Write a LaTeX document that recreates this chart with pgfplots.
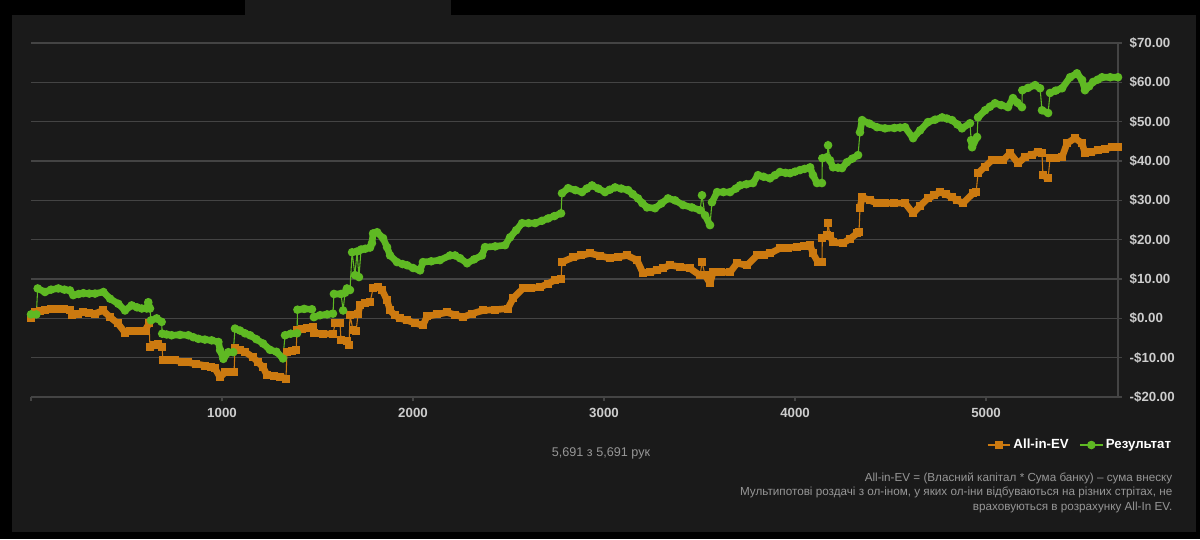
\documentclass[border=0pt]{standalone}
\usepackage{fontspec}
\setmainfont{Liberation Sans}
\usepackage{pgfplots}
\usepackage{pgfplotstable}
\pgfplotsset{compat=1.18}
\definecolor{bgpanel}{RGB}{26,26,26}
\definecolor{gridc}{RGB}{68,68,68}
\definecolor{ticklab}{RGB}{205,205,205}
\definecolor{ev}{RGB}{204,122,16}
\definecolor{res}{RGB}{95,185,35}
\definecolor{note}{RGB}{150,150,150}

\pgfplotstableread{
n v
0 0.2
21 1.5
45 1.8
73 2.0
105 2.3
141 2.5
175 2.4
204 2.2
215 0.8
245 1.2
272 1.5
305 1.3
335 1.2
377 2.0
414 0.3
455 -1.3
492 -3.6
520 -3.3
545 -3.1
570 -3.1
597 -3.1
618 -1.3
nan nan
623 -7.4
645 -6.9
665 -6.4
686 -7.4
nan nan
691 -10.7
720 -10.7
754 -10.7
790 -11.0
822 -11.2
865 -11.6
911 -12.0
940 -12.4
963 -12.7
990 -15.0
1016 -13.7
1040 -13.7
1063 -13.7
nan nan
1068 -7.6
1095 -8.0
1120 -8.5
1162 -9.9
1190 -11.2
1215 -12.4
1236 -14.5
1270 -14.6
1304 -14.8
1335 -15.3
nan nan
1340 -8.6
1365 -8.3
1388 -8.1
nan nan
1393 -3.0
1420 -2.7
1445 -2.5
1476 -2.3
1481 -3.8
1530 -3.9
1581 -4.0
nan nan
1592 -1.3
1618 -1.3
nan nan
1623 -5.6
1654 -5.8
1665 -6.9
nan nan
1670 0.8
nan nan
1686 -3.0
1702 -3.3
nan nan
1712 1.0
1723 3.5
1750 3.8
1775 4.1
nan nan
1791 7.6
1817 7.9
1838 7.2
1864 4.6
1880 2.0
1905 0.8
1932 0
1969 -0.5
2010 -1.2
2052 -1.8
2073 0.5
2125 1.0
2178 1.5
2220 0.9
2262 0.3
2310 1.2
2366 2.0
2430 2.2
2497 2.5
2524 5.1
2576 7.6
2620 7.7
2665 7.9
2705 8.8
2743 9.7
2775 10.0
nan nan
2780 14.3
2838 15.5
2880 16.0
2927 16.5
2980 15.9
3031 15.3
3075 15.6
3120 16.0
3173 14.8
3204 11.5
3240 11.8
3277 12.2
3310 12.8
3346 13.5
3400 13.1
3450 12.7
3503 10.9
nan nan
3513 14.3
nan nan
3529 11.0
3555 8.9
3571 11.7
3615 11.7
3660 11.7
3696 14.0
3749 13.5
3801 16.0
3835 16.2
3869 16.5
3921 17.8
3965 18.0
4010 18.1
4045 18.4
4079 18.6
4094 16.5
4120 14.3
4141 14.3
nan nan
4143 20.4
4168 21.1
nan nan
4173 24.2
nan nan
4183 21.0
4199 19.3
4251 19.1
4290 20.3
4325 21.6
4335 22.0
nan nan
4340 28.0
4351 30.8
4390 30.0
4429 29.3
4471 29.3
4520 29.3
4576 29.3
4618 26.7
4655 28.6
4696 30.5
4730 31.3
4759 32.1
4790 31.5
4822 30.8
4850 30.0
4880 29.3
4932 31.8
4948 32.0
nan nan
4958 36.9
4995 38.6
5031 40.2
5060 40.2
5089 40.2
5126 42.0
5168 39.4
5204 41.0
5240 41.6
5272 42.2
5293 42.0
nan nan
5298 36.4
5325 35.6
nan nan
5335 40.7
5365 40.8
5398 41.0
5424 44.5
5466 45.8
5503 44.5
5518 42.0
5550 42.3
5586 42.7
5625 43.1
5660 43.5
5691 43.5
}\evdata

\pgfplotstableread{
n v
0 1.0
28 1.0
nan nan
35 7.6
73 6.7
105 7.3
143 7.6
175 7.3
204 7.1
221 5.9
250 6.2
274 6.4
305 6.3
335 6.3
379 6.7
414 5.0
457 3.7
492 2.0
527 3.3
555 2.8
580 2.5
606 2.5
614 4.1
623 2.5
nan nan
628 -0.5
658 0
684 -0.9
nan nan
687 -3.9
710 -4.1
736 -4.3
780 -4.2
824 -4.3
850 -4.8
876 -5.2
910 -5.4
946 -5.6
981 -6.0
990 -8.1
1007 -10.3
1033 -8.6
1059 -8.6
nan nan
1068 -2.6
1094 -3.1
1120 -3.8
1147 -4.3
1180 -5.3
1215 -6.4
1251 -8.0
1285 -8.5
1319 -10.2
nan nan
1330 -4.3
1360 -3.9
1393 -3.8
nan nan
1395 2.2
1430 2.4
1471 2.3
nan nan
1481 0.3
1513 0.8
1550 1.0
1581 1.2
nan nan
1586 6.2
1623 6.2
nan nan
1634 2.0
nan nan
1644 6.5
1654 7.6
1670 7.2
nan nan
1681 16.8
nan nan
1696 11.0
nan nan
1707 17.0
nan nan
1717 10.5
nan nan
1728 17.5
1750 17.7
1775 18.0
1785 19.1
1791 21.6
1812 21.9
1843 20.4
1864 18.1
1880 16.0
1916 14.3
1945 13.8
1969 13.5
2000 12.8
2037 12.2
2052 14.3
2095 14.5
2141 14.8
2194 16.0
2220 16.0
2246 15.3
2283 14.0
2320 15.0
2361 16.0
2377 18.1
2430 18.3
2482 18.6
2508 20.6
2540 22.4
2571 24.2
2605 24.2
2639 24.2
2675 24.8
2707 25.4
2740 26.0
2775 26.7
nan nan
2780 31.8
2812 33.1
2850 32.6
2885 32.1
2910 33.0
2937 33.8
2970 33.0
3005 32.1
3030 32.7
3058 33.3
3090 33.0
3126 32.6
3150 31.6
3178 30.5
3200 29.3
3225 28.2
3267 28.0
3300 29.2
3335 30.5
3372 30.0
3414 28.8
3460 28.2
3503 27.5
nan nan
3513 31.3
nan nan
3529 26.2
3555 23.7
nan nan
3565 29.5
3592 32.1
3625 32.1
3660 32.1
3690 33.0
3712 33.8
3745 34.1
3780 34.4
3806 36.4
3835 36.0
3869 35.6
3895 36.4
3921 37.2
3950 37.0
3974 36.9
4000 37.3
4026 37.7
4050 38.0
4079 38.4
4094 36.4
4115 34.4
4141 34.4
nan nan
4143 40.7
4168 41.0
nan nan
4173 44.0
nan nan
4183 40.2
4199 38.4
4225 38.3
4246 38.2
4272 39.7
4300 40.6
4330 41.5
nan nan
4340 47.3
4351 50.4
4390 49.5
4429 48.6
4471 48.3
4520 48.4
4550 48.5
4576 48.6
4618 45.8
4655 47.8
4696 49.9
4733 50.5
4770 51.1
4795 50.8
4822 50.4
4850 49.3
4874 48.3
4916 49.6
nan nan
4922 45.3
4927 43.5
4953 46.1
nan nan
4958 51.1
4995 52.9
5020 53.8
5047 54.7
5080 54.2
5115 53.7
5141 56.0
5165 54.8
5188 53.7
nan nan
5190 58.0
5220 58.6
5257 59.3
5283 58.5
nan nan
5293 52.9
5325 52.2
nan nan
5335 57.3
5365 57.9
5398 58.5
5440 61.3
5476 62.3
5503 60.6
5518 58.0
5540 59.0
5560 60.1
5585 60.7
5607 61.3
5650 61.3
5691 61.3
}\resdata

\begin{document}
\begin{tikzpicture}
\begin{scope}[x=0.75bp,y=-0.75bp]
\fill[black] (0,0) rectangle (1200,539);
\fill[bgpanel] (12,15) rectangle (1196,532);
\fill[bgpanel] (245,0) rectangle (451,16);
\end{scope}
\begin{axis}[
  at={(23.25bp,-297.75bp)}, anchor=south west,
  scale only axis, width=815.25bp, height=265.5bp,
  xmin=0, xmax=5691, ymin=-20, ymax=70,
  axis y line*=right, axis x line*=bottom,
  x axis line style={draw=none},
  y axis line style={gridc, line width=1bp},
  ymajorgrids, grid style={gridc, line width=1.2bp},
  ytick={-20,-10,...,70},
  yticklabels={-\$20.00,-\$10.00,\$0.00,\$10.00,\$20.00,\$30.00,\$40.00,\$50.00,\$60.00,\$70.00},
  xtick={0,1000,...,5000},
  xticklabels={,1000,2000,3000,4000,5000},
  tick style={gridc, line width=1bp},
  tick align=outside, major tick length=3bp,
  x tick label style={font=\fontsize{10}{12}\selectfont\bfseries, text=ticklab, yshift=-2.25bp},
  y tick label style={font=\fontsize{10}{12}\selectfont\bfseries, text=ticklab, anchor=west, xshift=2.25bp},
  clip=false,
  legend style={at={(axis description cs:1.0552,-0.1356)}, anchor=east, draw=none, fill=none,
    text=white, font=\fontsize{10}{12}\selectfont\bfseries, legend columns=2,
    /tikz/every even column/.append style={column sep=6bp}},
]
\addplot[ev, line width=5bp, line join=round, line cap=round, unbounded coords=jump, forget plot] table[x=n,y=v] {\evdata};
\addplot[res, line width=5bp, line join=round, line cap=round, unbounded coords=jump, forget plot] table[x=n,y=v] {\resdata};
\addplot[ev, line width=0.8bp, mark=square*, mark size=2.6bp, unbounded coords=discard] table[x=n,y=v] {\evdata};
\addlegendentry{All-in-EV}
\addplot[res, line width=0.8bp, mark=*, mark size=2.8bp, unbounded coords=discard] table[x=n,y=v] {\resdata};
\addlegendentry{Результат}
\end{axis}
\begin{scope}[x=0.75bp,y=-0.75bp]
\node[text=note, font=\fontsize{9.5}{11}\selectfont] at (601,453) {5,691 з 5,691 рук};
\node[text=note, font=\fontsize{8.8}{11}\selectfont, anchor=base east] at (1177,481) {All-in-EV = (Власний капітал * Сума банку) – сума внеску};
\node[text=note, font=\fontsize{8.8}{11}\selectfont, anchor=base east] at (1177,495) {Мультипотові роздачі з ол-іном, у яких ол-іни відбуваються на різних стрітах, не};
\node[text=note, font=\fontsize{8.8}{11}\selectfont, anchor=base east] at (1177,510) {враховуються в розрахунку All-In EV.};
\end{scope}
\end{tikzpicture}
\end{document}
